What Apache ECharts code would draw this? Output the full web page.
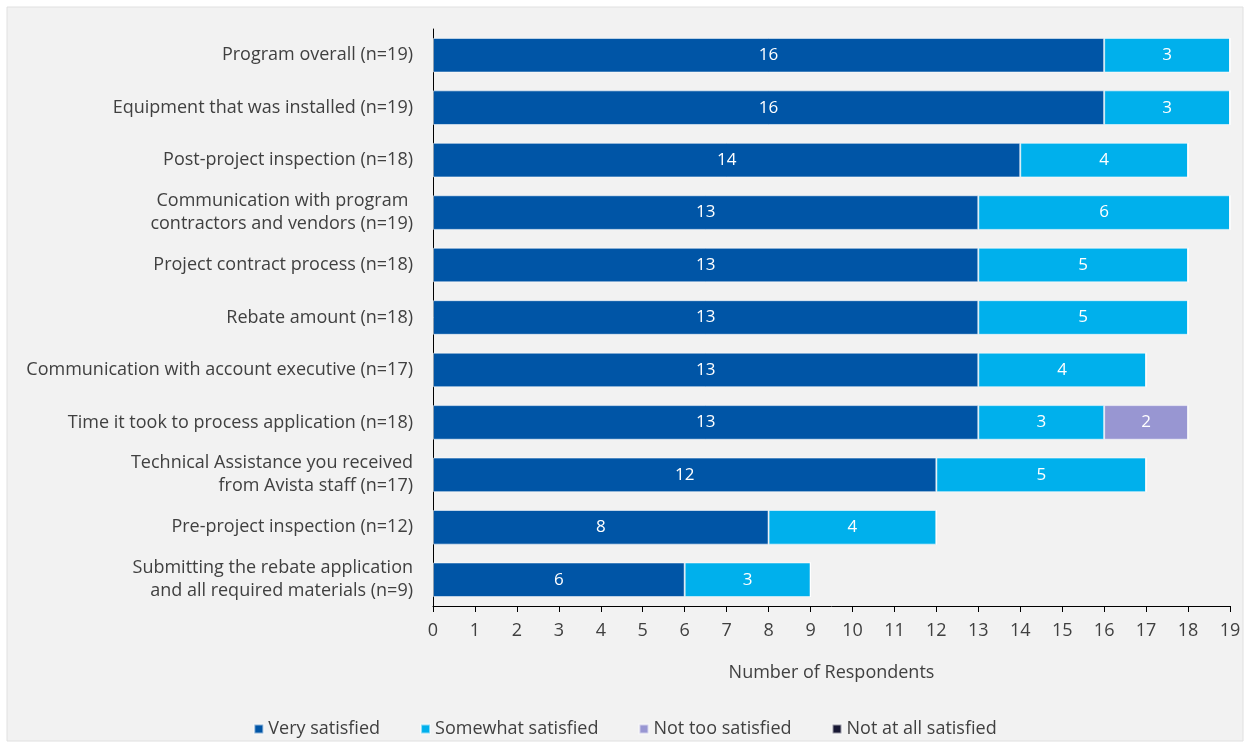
<!DOCTYPE html>
<html>
<head>
<meta charset="utf-8">
<script src="https://cdn.jsdelivr.net/npm/echarts@6/dist/echarts.min.js"></script>
<style>
  html, body { margin: 0; padding: 0; background: #ffffff; }
  #chart { width: 1250px; height: 746px; }
</style>
</head>
<body>
<div id="chart"></div>
<script>
// Satisfaction items, listed top to bottom
const categories = [
  'Program overall (n=19)',
  'Equipment that was installed (n=19)',
  'Post-project inspection (n=18)',
  'Communication with program \ncontractors and vendors (n=19)',
  'Project contract process (n=18)',
  'Rebate amount (n=18)',
  'Communication with account executive (n=17)',
  'Time it took to process application (n=18)',
  'Technical Assistance you received\nfrom Avista staff (n=17)',
  'Pre-project inspection (n=12)',
  'Submitting the rebate application\nand all required materials (n=9)'
];

const verySatisfied     = [16, 16, 14, 13, 13, 13, 13, 13, 12, 8, 6];
const somewhatSatisfied = [3, 3, 4, 6, 5, 5, 4, 3, 5, 4, 3];
const notTooSatisfied   = [0, 0, 0, 0, 0, 0, 0, 2, 0, 0, 0];
const notAtAllSatisfied = [0, 0, 0, 0, 0, 0, 0, 0, 0, 0, 0];

const xTicks = { min: 0, max: 19, interval: 1 };

const FONT = '"Open Sans", "Noto Sans", sans-serif';
const TEXT = '#404040';
const FS = 18;

function stackSeries(name, data, color) {
  return {
    name: name,
    type: 'bar',
    stack: 'total',
    data: data,
    barWidth: '66%',
    itemStyle: { color: color, borderColor: 'rgba(255,255,255,0.55)', borderWidth: 1 },
    label: {
      show: true,
      position: 'inside',
      color: '#ffffff',
      fontFamily: FONT,
      fontSize: 17,
      formatter: p => (p.value > 0 ? String(p.value) : '')
    },
    emphasis: { disabled: true }
  };
}

const chart = echarts.init(document.getElementById('chart'));
chart.setOption({
  backgroundColor: '#ffffff',
  animation: false,
  graphic: [{
    type: 'rect',
    z: -10,
    shape: { x: 7, y: 7, width: 1236, height: 734 },
    style: { fill: '#f2f2f2', stroke: '#e0e0e0', lineWidth: 1 }
  }],
  grid: { left: 433, right: 20, top: 29, bottom: 140, containLabel: false },
  legend: {
    bottom: 3,
    left: 'center',
    icon: 'rect',
    itemWidth: 9,
    itemHeight: 9,
    itemGap: 40,
    textStyle: { color: TEXT, fontFamily: FONT, fontSize: FS },
    data: ['Very satisfied', 'Somewhat satisfied', 'Not too satisfied', 'Not at all satisfied']
  },
  xAxis: {
    type: 'value',
    min: xTicks.min,
    max: xTicks.max,
    interval: xTicks.interval,
    name: 'Number of Respondents',
    nameLocation: 'middle',
    nameGap: 58,
    nameTextStyle: { color: TEXT, fontFamily: FONT, fontSize: FS },
    axisLine: { show: true, lineStyle: { color: '#000000', width: 1 } },
    axisTick: { show: true, length: 6, lineStyle: { color: '#000000' } },
    axisLabel: { color: TEXT, fontFamily: FONT, fontSize: FS, margin: 16 },
    splitLine: { show: false }
  },
  yAxis: {
    type: 'category',
    data: categories,
    inverse: true,
    axisLine: { show: true, lineStyle: { color: '#000000', width: 1 } },
    axisTick: { show: false },
    axisLabel: {
      color: TEXT,
      fontFamily: FONT,
      fontSize: FS,
      margin: 20,
      lineHeight: 23,
      align: 'right'
    }
  },
  series: [
    stackSeries('Very satisfied', verySatisfied, '#0055a6'),
    stackSeries('Somewhat satisfied', somewhatSatisfied, '#00b0ec'),
    stackSeries('Not too satisfied', notTooSatisfied, '#9896d2'),
    stackSeries('Not at all satisfied', notAtAllSatisfied, '#181834')
  ]
});
</script>
</body>
</html>
